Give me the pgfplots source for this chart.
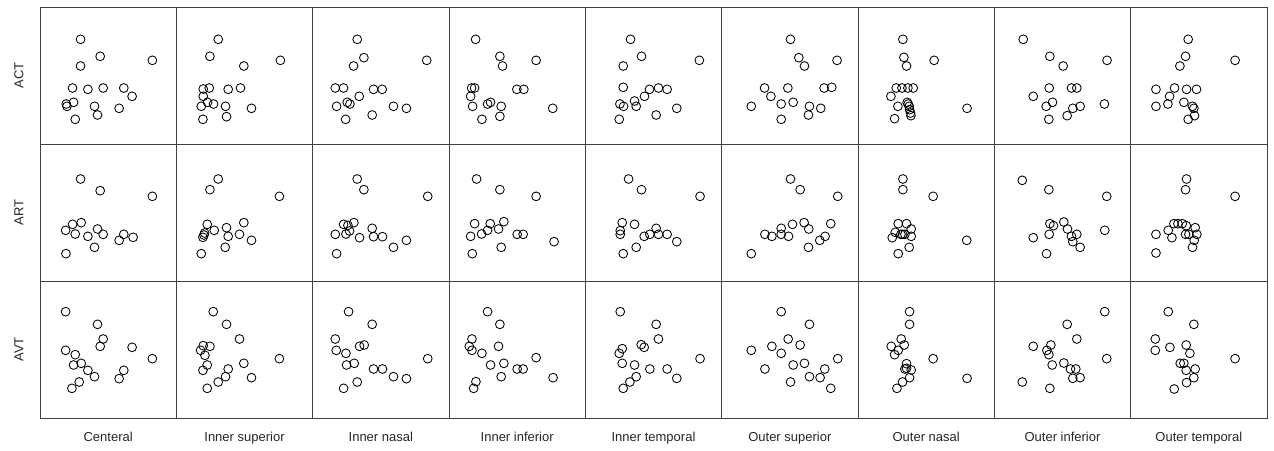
\documentclass[border=0pt]{standalone}
\usepackage{fontspec}
\setmainfont{Liberation Sans}
\usepackage{pgfplots}
\pgfplotsset{compat=1.18}
\pgfplotsset{panel/.style={scale only axis, width=136.33pt, height=137pt,
  xmin=0, xmax=410, ymin=0, ymax=411, y dir=reverse,
  xtick=\empty, ytick=\empty, anchor=north west,
  axis line style={line width=0.8pt, black!75}},
  pts/.style={only marks, mark=o, mark size=4.4pt, mark options={line width=0.85pt, black}}}
\newcommand{\panel}[3]{\begin{axis}[panel, at={(#1pt,#2pt)}]
\addplot[pts] coordinates {#3};
\end{axis}}
\begin{document}
\begin{tikzpicture}
\path[use as bounding box] (0,0) rectangle (1274pt,450pt);
% Row 1: ACT
\panel{40}{443}{(122,97) (181,148) (338,160) (122,177) (98,243) (144,247) (190,243) (252,243) (277,268) (101,286) (79,291) (81,298) (164,298) (238,304) (173,324) (106,337)}
\panel{176.33}{443}{(126,97) (101,148) (313,160) (203,177) (81,246) (99,243) (156,247) (193,243) (81,268) (94,286) (112,291) (75,298) (148,298) (226,304) (151,329) (80,337)}
\panel{312.67}{443}{(134,97) (154,152) (123,177) (343,160) (68,243) (93,243) (183,247) (209,247) (140,268) (104,286) (112,291) (72,298) (243,298) (282,304) (179,324) (99,337)}
\panel{449}{443}{(80,97) (153,148) (161,177) (262,160) (68,243) (77,243) (204,247) (225,247) (65,268) (116,291) (125,286) (71,298) (157,298) (312,304) (153,328) (99,337)}
\panel{585.33}{443}{(136,97) (169,148) (114,177) (343,160) (114,241) (193,247) (220,243) (246,247) (178,268) (148,282) (104,291) (115,298) (153,298) (275,304) (213,324) (102,337)}
\panel{721.67}{443}{(207,97) (232,152) (249,177) (347,160) (129,243) (199,243) (308,243) (331,241) (148,268) (179,291) (215,286) (89,298) (264,298) (298,304) (261,324) (179,337)}
\panel{858}{443}{(135,97) (138,151) (146,177) (229,160) (115,243) (132,243) (150,243) (166,243) (99,268) (148,286) (151,291) (120,298) (154,298) (155,308) (158,318) (159,326) (110,335) (328,304)}
\panel{994.33}{443}{(87,97) (167,148) (207,177) (339,160) (165,243) (232,243) (248,243) (117,268) (175,286) (156,298) (236,304) (258,298) (331,291) (219,326) (164,337)}
\panel{1130.67}{443}{(173,97) (165,148) (148,177) (314,160) (76,247) (132,243) (168,247) (198,247) (117,268) (112,291) (160,286) (76,298) (186,298) (190,304) (192,326) (173,337)}
% Row 2: ART
\panel{40}{306}{(122,105) (181,140) (338,157) (98,241) (124,236) (77,259) (106,270) (144,277) (173,255) (190,271) (252,271) (238,289) (280,280) (164,310) (78,329)}
\panel{176.33}{306}{(126,105) (101,137) (310,157) (93,241) (203,236) (151,251) (114,259) (85,267) (83,273) (80,280) (156,277) (190,271) (226,289) (147,310) (75,329)}
\panel{312.67}{306}{(134,105) (154,137) (346,157) (93,241) (106,244) (124,236) (111,261) (100,270) (68,271) (179,253) (141,281) (183,278) (210,278) (243,310) (282,289) (72,329)}
\panel{449}{306}{(83,105) (153,137) (262,157) (77,239) (124,239) (165,233) (149,255) (116,259) (98,270) (65,277) (205,271) (223,271) (316,293) (157,310) (70,329)}
\panel{585.33}{306}{(130,105) (169,137) (345,157) (111,236) (148,241) (105,260) (105,271) (213,253) (177,277) (194,271) (220,271) (246,271) (275,293) (153,310) (114,329)}
\panel{721.67}{306}{(207,105) (236,137) (349,157) (213,241) (248,236) (262,255) (328,239) (179,253) (130,271) (151,277) (179,271) (201,277) (311,277) (295,289) (261,310) (89,329)}
\panel{858}{306}{(135,105) (135,137) (226,157) (121,239) (146,239) (160,255) (112,265) (103,281) (134,271) (129,271) (141,271) (160,277) (154,310) (121,329) (327,289)}
\panel{994.33}{306}{(84,109) (164,137) (338,157) (167,239) (178,245) (209,234) (220,255) (248,271) (232,277) (236,293) (258,310) (165,271) (117,281) (332,259) (157,329)}
\panel{1130.67}{306}{(168,105) (165,137) (314,157) (130,239) (142,239) (155,239) (167,245) (194,251) (113,259) (165,271) (175,271) (199,271) (191,289) (186,310) (124,281) (76,271) (76,327)}
% Row 3: AVT
\panel{40}{169}{(77,92) (173,130) (190,174) (181,196) (277,199) (77,208) (106,221) (101,252) (124,247) (144,268) (164,287) (252,268) (238,293) (338,233) (118,303) (96,322)}
\panel{176.33}{169}{(111,92) (151,130) (190,174) (81,194) (101,196) (73,208) (86,223) (93,252) (80,268) (156,264) (203,247) (310,233) (226,290) (148,287) (126,303) (93,322)}
\panel{312.67}{169}{(108,92) (179,130) (68,174) (71,208) (100,217) (141,196) (155,192) (102,252) (125,247) (183,264) (210,264) (243,287) (282,293) (346,233) (134,303) (93,322)}
\panel{449}{169}{(116,92) (153,130) (69,174) (61,196) (69,208) (99,217) (149,196) (125,252) (165,247) (205,264) (223,264) (262,230) (313,290) (157,287) (81,302) (74,322)}
\panel{585.33}{169}{(105,92) (213,130) (220,174) (168,191) (177,199) (111,203) (102,217) (111,247) (148,252) (194,264) (246,264) (275,292) (345,233) (153,287) (134,303) (114,322)}
\panel{721.67}{169}{(179,92) (264,130) (200,174) (236,192) (151,196) (179,217) (89,208) (215,252) (249,247) (130,264) (349,233) (310,264) (264,287) (296,290) (207,303) (328,322)}
\panel{858}{169}{(155,92) (155,130) (130,174) (139,192) (100,196) (121,208) (110,221) (146,248) (141,264) (160,267) (155,290) (134,303) (117,322) (226,233) (328,292) (146,262)}
\panel{994.33}{169}{(332,92) (219,130) (248,174) (117,196) (170,192) (158,208) (164,221) (174,252) (209,246) (229,264) (245,264) (258,290) (236,292) (338,233) (84,303) (167,322)}
\panel{1130.67}{169}{(113,92) (190,130) (74,174) (74,208) (118,199) (167,192) (178,217) (149,247) (160,247) (167,268) (194,264) (190,290) (168,305) (131,324) (314,233)}
% Labels
\begin{scope}[every node/.style={font=\fontsize{13}{15}\selectfont, text=black!85}]
\node[rotate=90] at (19pt,374.5pt) {ACT};
\node[rotate=90] at (19pt,237.5pt) {ART};
\node[rotate=90] at (19pt,100.5pt) {AVT};
\end{scope}
\begin{scope}[every node/.style={font=\fontsize{13}{15}\selectfont, text=black!85, anchor=base}]
\node at (108.17pt,8.5pt) {Centeral};
\node at (244.5pt,8.5pt) {Inner superior};
\node at (380.83pt,8.5pt) {Inner nasal};
\node at (517.17pt,8.5pt) {Inner inferior};
\node at (653.5pt,8.5pt) {Inner temporal};
\node at (789.83pt,8.5pt) {Outer superior};
\node at (926.17pt,8.5pt) {Outer nasal};
\node at (1062.5pt,8.5pt) {Outer inferior};
\node at (1198.83pt,8.5pt) {Outer temporal};
\end{scope}
\end{tikzpicture}
\end{document}
